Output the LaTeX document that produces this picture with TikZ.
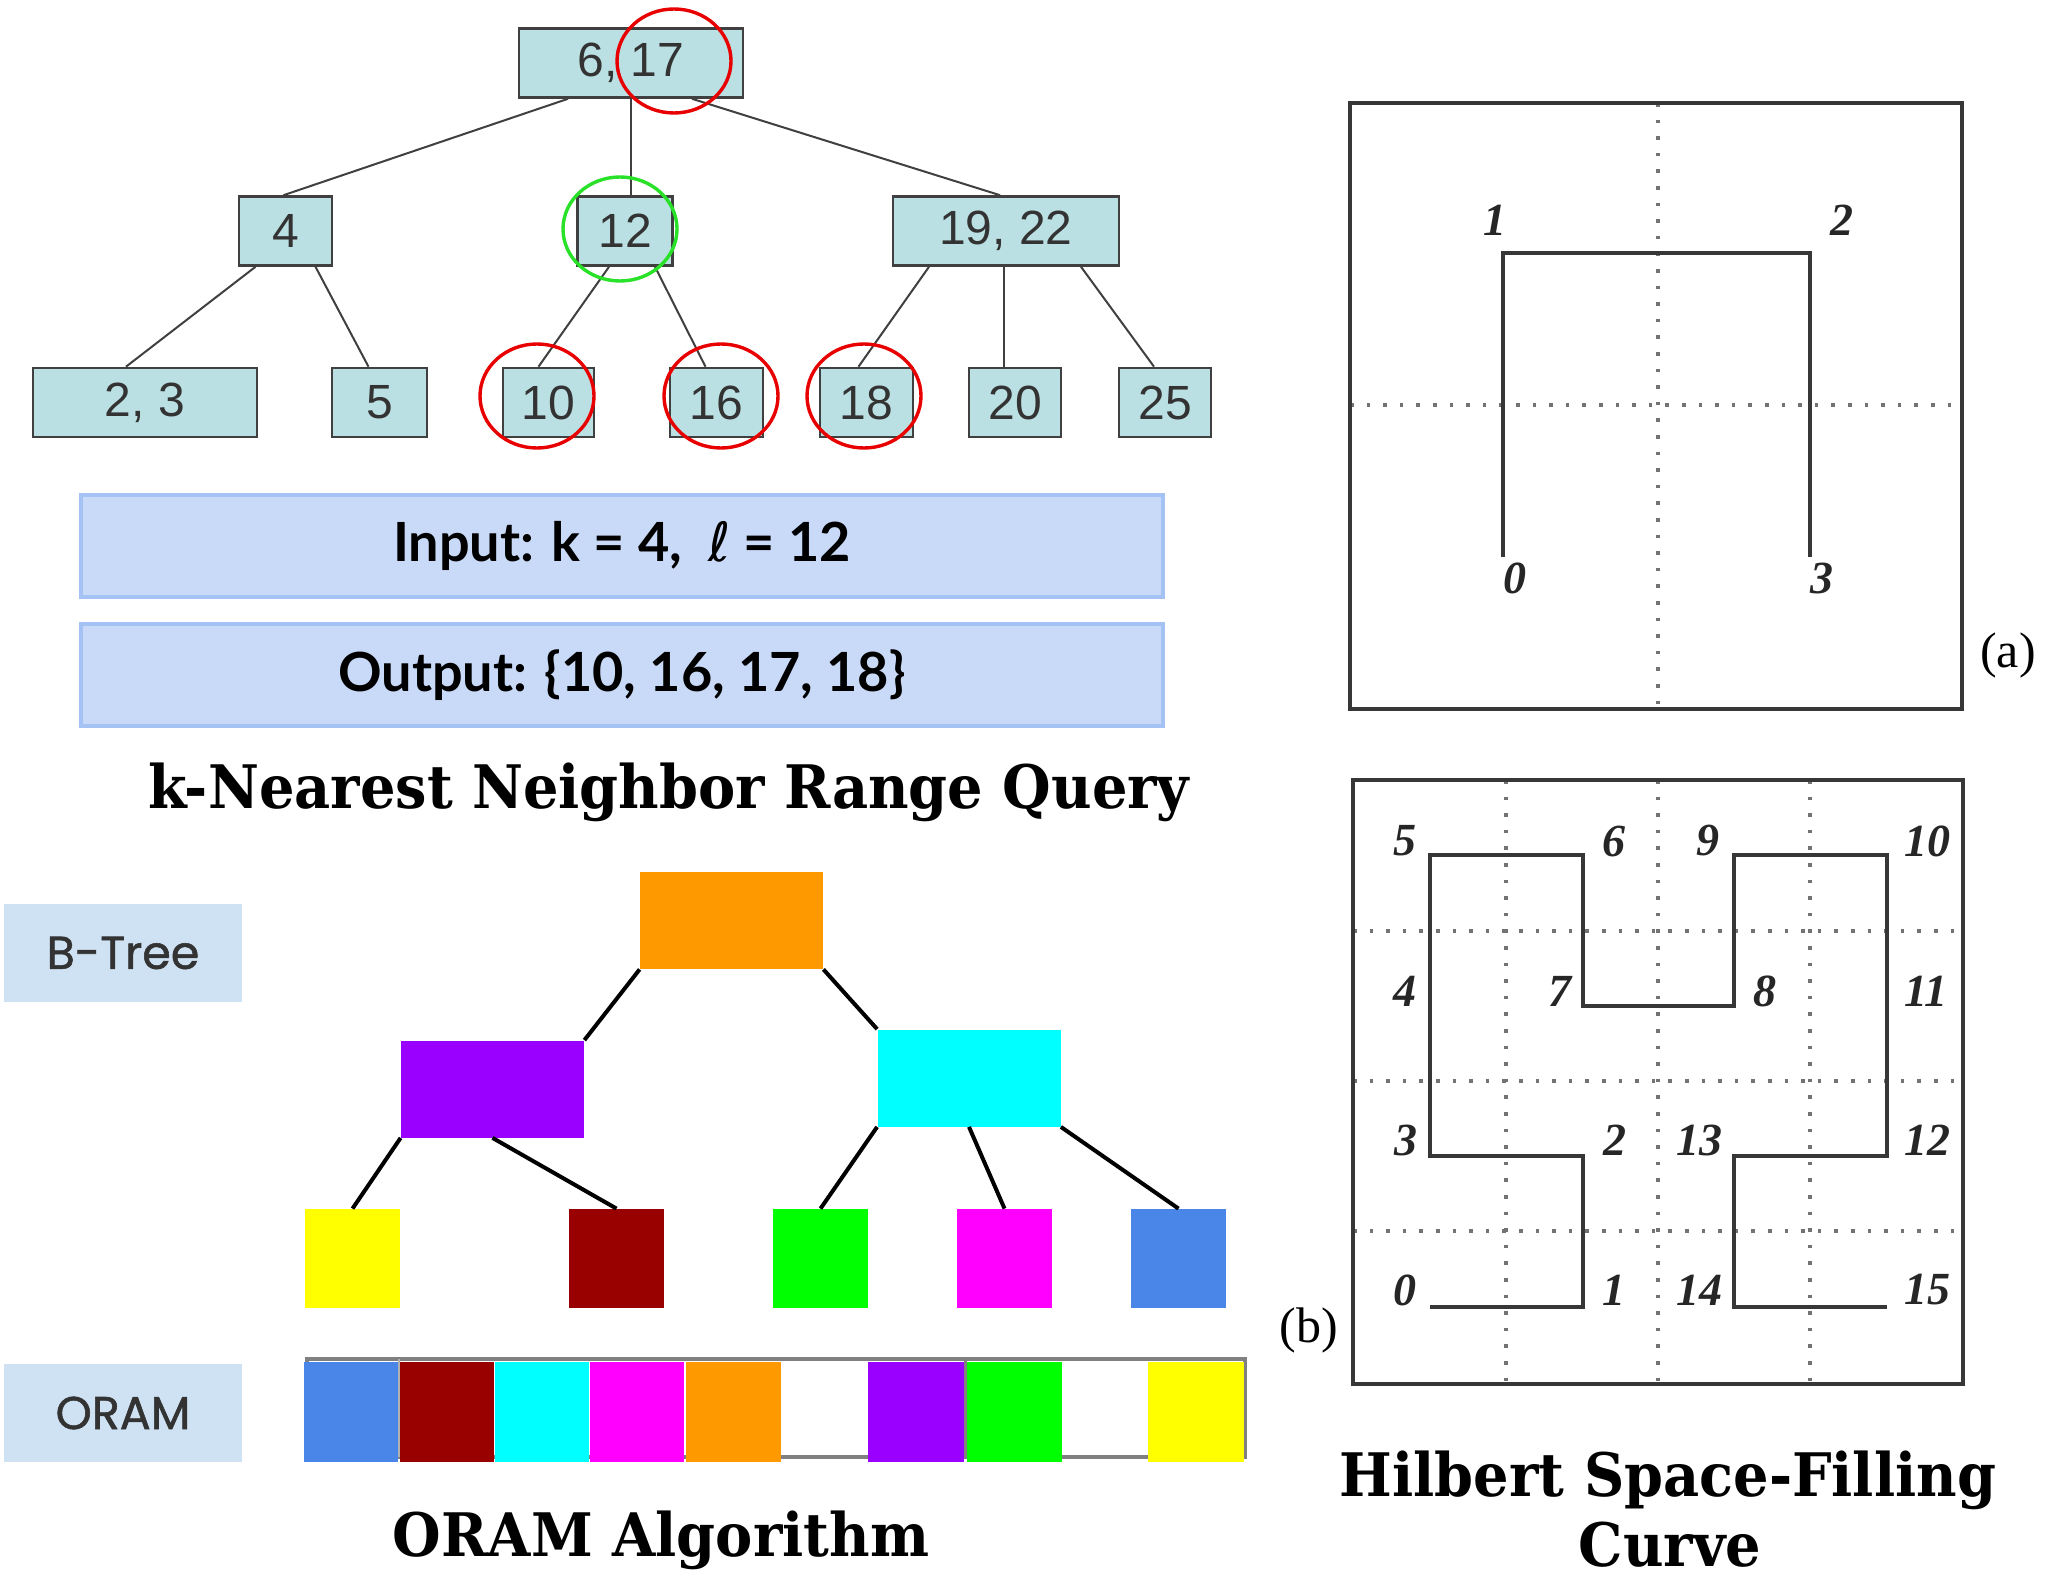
\documentclass[tikz,border=0pt]{standalone}
\usepackage{fontspec}
\setmainfont{Liberation Serif}
\newfontfamily\treefont{Liberation Sans}
\newfontfamily\headfont[FakeStretch=0.93]{DejaVu Serif}
\newfontfamily\boxfont{Lato}
\newfontfamily\tagfont[FakeBold=1.2]{Poppins}
\newfontfamily\symfont{DejaVu Sans}
\usetikzlibrary{calc,shapes.geometric}

\definecolor{treefill}{RGB}{187,224,227}
\definecolor{treeline}{RGB}{64,64,64}
\definecolor{qfill}{RGB}{201,218,248}
\definecolor{qline}{RGB}{164,194,244}
\definecolor{tagfill}{RGB}{207,226,243}
\definecolor{hitred}{RGB}{232,0,0}
\definecolor{hitgreen}{RGB}{40,225,40}
\definecolor{cblue}{RGB}{74,134,232}
\definecolor{cdarkred}{RGB}{153,0,0}
\definecolor{ccyan}{RGB}{0,255,255}
\definecolor{cmagenta}{RGB}{255,0,255}
\definecolor{corange}{RGB}{255,153,0}
\definecolor{cpurple}{RGB}{153,0,255}
\definecolor{cgreen}{RGB}{0,255,0}
\definecolor{cyellow}{RGB}{255,255,0}
\definecolor{gridgray}{RGB}{115,115,115}
\definecolor{curvegray}{RGB}{55,55,55}

\tikzset{
  tbox/.style={draw=treeline, line width=1.3pt, fill=treefill, inner sep=0pt,
    minimum height=34.5pt, minimum width={#1*0.5pt},
    font=\treefont\fontsize{24}{28}\selectfont, text=black!80},
  tedge/.style={draw=treeline, line width=1pt},
  ring/.style={draw=#1, line width=1.7pt, ellipse, inner sep=0pt,
    minimum width=57pt, minimum height=52pt},
  qbox/.style={draw=qline, line width=2pt, fill=qfill, inner sep=0pt,
    minimum width=541pt, minimum height=51pt,
    font=\boxfont\bfseries\fontsize{27}{31}\selectfont, text=black},
  headline/.style={anchor=base, font=\headfont\bfseries\fontsize{30}{36}\selectfont},
  tag/.style={fill=tagfill, inner sep=0pt, minimum width=119pt, minimum height=49pt,
    font=\tagfont\fontsize{23}{26}\selectfont, text=black!80},
  bnode/.style={fill=#1, inner sep=0pt, minimum width=91.5pt, minimum height=48.5pt},
  leaf/.style={fill=#1, inner sep=0pt, minimum width=47.5pt, minimum height=49.5pt},
  bedge/.style={draw=black, line width=2pt},
  slot/.style={fill=#1, inner sep=0pt, minimum height=50pt},
  frame/.style={draw=curvegray, line width=2pt},
  grid/.style={draw=gridgray, line width=1.6pt, dash pattern=on 1.8pt off 6.5pt},
  curve/.style={draw=curvegray, line width=1.6pt},
  idx/.style={font=\bfseries\itshape\fontsize{23}{26}\selectfont, text=black!85, inner sep=0pt},
  panel/.style={font=\fontsize{25}{28}\selectfont, inner sep=0pt}
}

\begin{document}
\begin{tikzpicture}[x=0.5pt,y=-0.5pt]
\useasboundingbox[fill=white] (0,0) rectangle (2070,1577);

% ---------- k-nearest neighbour query on a 2-3 tree ----------
\node[tbox=224] (r) at (631,63) {6, 17};
\node[tbox=93] (a4) at (285.5,231) {4};
\node[tbox=95] (a12) at (625,231) {12};
\node[tbox=226] (a1922) at (1006,231) {19, 22};
\node[tbox=224] (l23) at (145,402.5) {2, 3};
\node[tbox=95] (l5) at (379.5,402.5) {5};
\node[tbox=91] (l10) at (548.5,402.5) {10};
\node[tbox=93] (l16) at (716.5,402.5) {16};
\node[tbox=93] (l18) at (866.5,402.5) {18};
\node[tbox=92] (l20) at (1015,402.5) {20};
\node[tbox=92] (l25) at (1165,402.5) {25};

\draw[tedge] ($(r.south)+(-63,0)$) -- ($(a4.north)+(-2,0)$);
\draw[tedge] (r.south) -- (r.south |- a12.north);
\draw[tedge] ($(r.south)+(61,0)$) -- ($(a1922.north)+(-6,0)$);
\draw[tedge] ($(a4.south)+(-30,0)$) -- ($(l23.north)+(-19,0)$);
\draw[tedge] ($(a4.south)+(30,0)$) -- ($(l5.north)+(-11,0)$);
\draw[tedge] ($(a12.south)+(-16,0)$) -- ($(l10.north)+(-10,0)$);
\draw[tedge] ($(a12.south)+(30,0)$) -- ($(l16.north)+(-11,0)$);
\draw[tedge] ($(a1922.south)+(-77,0)$) -- ($(l18.north)+(-8,0)$);
\draw[tedge] ($(a1922.south)+(-2,0)$) -- ($(l20.north)+(-11,0)$);
\draw[tedge] ($(a1922.south)+(75,0)$) -- ($(l25.north)+(-11,0)$);

\node[ring=hitred] (h17) at (674,61) {};
\node[ring=hitgreen] (h12) at (620,229) {};
\node[ring=hitred] (h10) at (537,396) {};
\node[ring=hitred] (h16) at (721,396) {};
\node[ring=hitred] (h18) at (864,396) {};

\node[qbox] (inp) at (622,546) {Input: k = 4,\ \ {\symfont\mdseries ℓ} = 12};
\node[qbox] (out) at (622,675) {Output: \{10, 16, 17, 18\}};

\node[headline] (knn) at (669,808) {k-Nearest Neighbor Range Query};

% ---------- B-tree stored in ORAM ----------
\node[tag] (tbt) at (123,953) {B-Tree};
\node[tag] (tor) at (123,1413) {ORAM};

\node[bnode=corange] (br) at (731.5,920.5) {};
\node[bnode=cpurple] (bl) at (492.5,1089) {};
\node[bnode=ccyan] (bc) at (969,1078) {};
\node[leaf=cyellow] (ly) at (352.5,1258.5) {};
\node[leaf=cdarkred] (ld) at (616.5,1258.5) {};
\node[leaf=cgreen] (lg) at (820.5,1258.5) {};
\node[leaf=cmagenta] (lm) at (1004.5,1258.5) {};
\node[leaf=cblue] (lb) at (1178.5,1258.5) {};

\draw[bedge] (br.south west) -- (bl.north east);
\draw[bedge] (br.south east) -- (bc.north west);
\draw[bedge] (bl.south west) -- (ly.north);
\draw[bedge] (bl.south) -- (ld.north);
\draw[bedge] (bc.south west) -- (lg.north);
\draw[bedge] (bc.south) -- (lm.north);
\draw[bedge] (bc.south east) -- (lb.north);

\draw[draw=gray, line width=2pt] (307,1359) rectangle (1245,1457);
\draw[draw=gray!60, line width=1pt] (399,1359) -- (399,1457);
\draw[draw=gray, line width=1.5pt] (965.5,1359) -- (965.5,1457);
\node[slot=cblue, minimum width=47pt] (s1) at (351,1412) {};
\node[slot=cdarkred, minimum width=47pt] (s2) at (447,1412) {};
\node[slot=ccyan, minimum width=47pt] (s3) at (542,1412) {};
\node[slot=cmagenta, minimum width=47pt] (s4) at (637,1412) {};
\node[slot=corange, minimum width=47.5pt] (s5) at (733.5,1412) {};
\node[slot=cpurple, minimum width=48pt] (s7) at (916,1412) {};
\node[slot=cgreen, minimum width=47.5pt] (s8) at (1014.5,1412) {};
\node[slot=cyellow, minimum width=48pt] (s10) at (1196,1412) {};

\node[headline] (oram) at (661,1556) {ORAM Algorithm};

% ---------- Hilbert curve, order 1 ----------
\draw[grid] (1658,103) -- (1658,709);
\draw[grid] (1350,405) -- (1962,405);
\draw[frame] (1350,103) rectangle (1962,709);
\coordinate (p0) at (1503,557);
\coordinate (p1) at (1503,253);
\coordinate (p2) at (1810,253);
\coordinate (p3) at (1810,557);
\draw[curve] (p0) -- (p1) -- (p2) -- (p3);
\node[idx] (q1) at (1495,220) {1};
\node[idx] (q2) at (1842,220) {2};
\node[idx] (q0) at (1515,578) {0};
\node[idx] (q3) at (1822,578) {3};
\node[panel] (pa) at (2008,655) {(a)};

% ---------- Hilbert curve, order 2 ----------
\foreach \gx in {1506,1658,1810} \draw[grid] (\gx,780) -- (\gx,1384);
\foreach \gy in {931,1081,1231} \draw[grid] (1353,\gy) -- (1963,\gy);
\draw[frame] (1353,780) rectangle (1963,1384);
\draw[curve] (1430,1307) -- (1583,1307) -- (1583,1156) -- (1430,1156)
  -- (1430,1006) -- (1430,855) -- (1583,855) -- (1583,1006)
  -- (1734,1006) -- (1734,855) -- (1887,855) -- (1887,1006)
  -- (1887,1156) -- (1734,1156) -- (1734,1307) -- (1887,1307);
\node[idx] (m5) at (1405,841) {5};
\node[idx] (m6) at (1614,841) {6};
\node[idx] (m9) at (1708,841) {9};
\node[idx] (m10) at (1927,841) {10};
\node[idx] (m4) at (1405,991) {4};
\node[idx] (m7) at (1560,991) {7};
\node[idx] (m8) at (1765,991) {8};
\node[idx] (m11) at (1926,991) {11};
\node[idx] (m3) at (1406,1140) {3};
\node[idx] (m2) at (1615,1140) {2};
\node[idx] (m13) at (1699,1140) {13};
\node[idx] (m12) at (1927,1140) {12};
\node[idx] (m0) at (1405,1290) {0};
\node[idx] (m1) at (1614,1290) {1};
\node[idx] (m14) at (1699,1290) {14};
\node[idx] (m15) at (1927,1290) {15};
\node[panel] (pb) at (1309,1330) {(b)};

\node[headline] (hil1) at (1668,1496) {Hilbert Space-Filling};
\node[headline] (hil2) at (1670,1566) {Curve};
\end{tikzpicture}
\end{document}
